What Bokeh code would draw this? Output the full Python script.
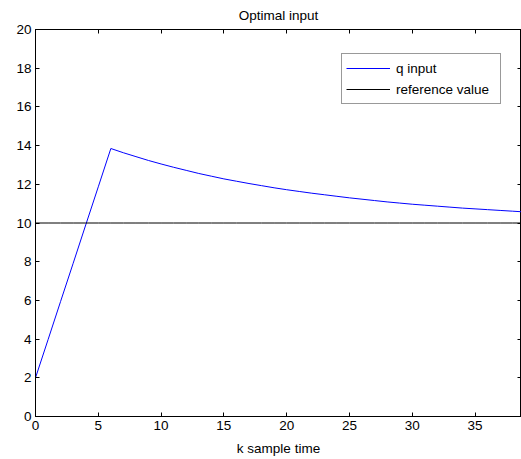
from bokeh.plotting import figure
from bokeh.models import Range1d, LinearAxis, FixedTicker, Legend, LegendItem
from bokeh.embed import file_html
from bokeh.resources import INLINE

# Data
k = list(range(0, 40))
q_input = [2.0, 3.97, 5.95, 7.92, 9.9, 11.87, 13.85, 13.63, 13.43, 13.23,
           13.05, 12.88, 12.72, 12.56, 12.42, 12.28, 12.16, 12.04, 11.93, 11.82,
           11.72, 11.63, 11.54, 11.46, 11.38, 11.30, 11.23, 11.16, 11.09, 11.03,
           10.97, 10.92, 10.87, 10.82, 10.77, 10.73, 10.69, 10.65, 10.61, 10.57]
reference_value = 10
reference = [reference_value] * len(k)

x_ticks = [0, 5, 10, 15, 20, 25, 30, 35]
y_ticks = [0, 2, 4, 6, 8, 10, 12, 14, 16, 18, 20]

FONT = "Liberation Sans"

p = figure(width=521, height=459, output_backend="svg", toolbar_location=None,
           x_range=Range1d(0, 38.7), y_range=Range1d(0, 20),
           min_border_left=35, min_border_right=0, min_border_top=29, min_border_bottom=43)
p.background_fill_color = "white"
p.border_fill_color = "white"
p.outline_line_color = "black"
p.xgrid.grid_line_color = None
p.ygrid.grid_line_color = None

p.title.text = "Optimal input"
p.title.align = "center"
p.title.text_font = FONT
p.title.text_font_size = "13.5px"
p.title.text_font_style = "normal"
p.title.text_color = "black"
p.title.vertical_align = "top"
p.title.text_line_height = 0.8
p.title.standoff = 10

def style_axis(ax, ticks, labels=True):
    ax.ticker = FixedTicker(ticks=ticks)
    ax.major_tick_in = 4
    ax.major_tick_out = 0
    ax.minor_tick_line_color = None
    ax.axis_line_color = "black"
    ax.major_tick_line_color = "black"
    ax.major_label_text_font = FONT
    ax.major_label_text_color = "black"
    ax.major_label_text_font_size = "13.5px"
    if not labels:
        ax.major_label_overrides = {t: "" for t in ticks}
        ax.major_label_standoff = 0

style_axis(p.xaxis[0], x_ticks)
style_axis(p.yaxis[0], y_ticks)
p.xaxis[0].major_label_standoff = 4
p.yaxis[0].major_label_standoff = 4
p.xaxis[0].axis_label = "k sample time"
p.xaxis[0].axis_label_text_font = FONT
p.xaxis[0].axis_label_text_font_size = "13.5px"
p.xaxis[0].axis_label_text_font_style = "normal"
p.xaxis[0].axis_label_text_color = "black"
p.xaxis[0].axis_label_standoff = 8

top = LinearAxis()
style_axis(top, x_ticks, labels=False)
p.add_layout(top, "above")
right = LinearAxis()
style_axis(right, y_ticks, labels=False)
p.add_layout(right, "right")

r1 = p.line(k, q_input, line_color="#0000ff", line_width=1)
r2 = p.line(k, reference, line_color="black", line_width=1)

legend = Legend(items=[LegendItem(label="q input", renderers=[r1]),
                       LegendItem(label="reference value", renderers=[r2])],
                location=(306, 312))
legend.label_text_font = FONT
legend.label_text_font_size = "13.5px"
legend.label_text_color = "black"
legend.border_line_color = "#333333"
legend.border_line_width = 1
legend.background_fill_color = "white"
legend.background_fill_alpha = 1
legend.padding = 4
legend.spacing = 1
legend.margin = 0
legend.glyph_width = 44
legend.glyph_height = 20
legend.label_height = 20
legend.label_standoff = 6
legend.label_width = 100
p.add_layout(legend, "center")

open("out.html", "w").write(file_html(p, INLINE))
